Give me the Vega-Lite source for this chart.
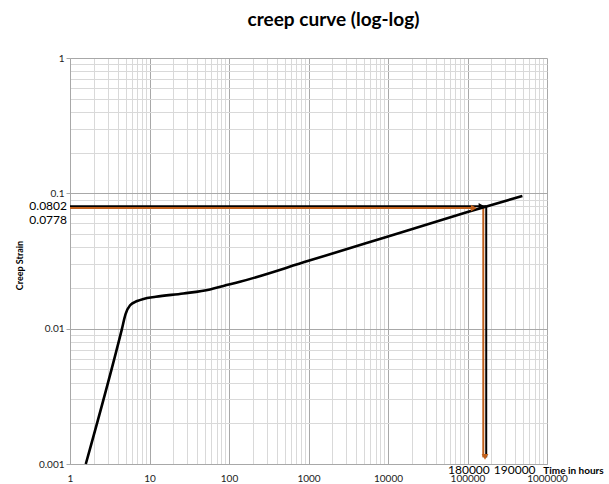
{
  "$schema": "https://vega.github.io/schema/vega-lite/v6.json",
  "width": 477,
  "height": 406,
  "autosize": "none",
  "padding": {"left": 70, "top": 58, "right": 62, "bottom": 20},
  "background": "white",
  "title": {"text": "creep curve (log-log)", "fontSize": 19, "font": "Lato", "fontWeight": "bold", "color": "#000000", "anchor": "middle", "frame": "group", "dx": 25, "offset": 23},
  "config": {"view": {"stroke": null}, "font": "Lato"},
  "datasets": {
    "curve": [
      {"x": 1.58, "y": 0.001},
      {"x": 4.47, "y": 0.0098},
      {"x": 5.0, "y": 0.0128},
      {"x": 5.7, "y": 0.0149},
      {"x": 7.0, "y": 0.0160},
      {"x": 8.4, "y": 0.0166},
      {"x": 12, "y": 0.0172},
      {"x": 26.6, "y": 0.0182},
      {"x": 57.7, "y": 0.0195},
      {"x": 85, "y": 0.0207},
      {"x": 137, "y": 0.0222},
      {"x": 1000, "y": 0.0317},
      {"x": 10000, "y": 0.0480},
      {"x": 100000, "y": 0.0727},
      {"x": 490000, "y": 0.0957}
    ],
    "guides": [
      {"series": "black", "part": "h", "o": 1, "x": 1, "y": 0.0802},
      {"series": "black", "part": "h", "o": 2, "x": 172000, "y": 0.0802},
      {"series": "orange", "part": "h", "o": 1, "x": 1, "y": 0.0778},
      {"series": "orange", "part": "h", "o": 2, "x": 125000, "y": 0.0778},
      {"series": "orange", "part": "v", "o": 1, "x": 158000, "y": 0.0778},
      {"series": "orange", "part": "v", "o": 2, "x": 158000, "y": 0.00112},
      {"series": "black", "part": "v", "o": 1, "x": 172000, "y": 0.0802},
      {"series": "black", "part": "v", "o": 2, "x": 172000, "y": 0.00112}
    ],
    "heads": [
      {"series": "black", "dir": "right", "x": 150000, "y": 0.0802},
      {"series": "orange", "dir": "right", "x": 120000, "y": 0.0778},
      {"series": "orange", "dir": "down", "x": 166000, "y": 0.00113}
    ],
    "ylabs": [
      {"t": "0.0802", "x": 1, "y": 0.0802}
    ],
    "ylabs2": [
      {"t": "0.0778", "x": 1, "y": 0.0778}
    ],
    "xlabsL": [
      {"t": "180000", "x": 180000, "y": 0.001}
    ],
    "xlabsR": [
      {"t": "190000", "x": 180000, "y": 0.001}
    ]
  },
  "layer": [
    {
      "data": {"name": "guides"},
      "mark": {"type": "line", "strokeWidth": 2, "clip": false},
      "encoding": {
        "x": {
          "field": "x", "type": "quantitative",
          "scale": {"type": "log", "domain": [1, 1000000], "nice": false},
          "axis": {
            "values": [1,2,3,4,5,6,7,8,9,10,20,30,40,50,60,70,80,90,100,200,300,400,500,600,700,800,900,1000,2000,3000,4000,5000,6000,7000,8000,9000,10000,20000,30000,40000,50000,60000,70000,80000,90000,100000,200000,300000,400000,500000,600000,700000,800000,900000,1000000],
            "labelExpr": "abs(log(datum.value)/LN10 - round(log(datum.value)/LN10)) < 0.000001 ? format(datum.value, 'd') : ''",
            "labelOverlap": false,
            "labelFlush": false,
            "labelFontSize": 10,
            "labelColor": "#222222",
            "labelFont": "Lato",
            "labelPadding": 9,
            "grid": true,
            "gridColor": {"condition": {"test": "abs(log(datum.value)/LN10 - round(log(datum.value)/LN10)) < 0.000001", "value": "#a8a8a8"}, "value": "#d9d9d9"},
            "gridWidth": 1,
            "ticks": false,
            "domain": true,
            "domainColor": "#a8a8a8",
            "title": "Time in hours",
            "titleFont": "Lato",
            "titleFontSize": 10,
            "titleFontWeight": "bold",
            "titleColor": "#000000",
            "titleX": 503,
            "titleY": 6,
            "titleAlign": "center",
            "titleBaseline": "middle"
          }
        },
        "y": {
          "field": "y", "type": "quantitative",
          "scale": {"type": "log", "domain": [0.001, 1], "nice": false},
          "axis": {
            "values": [0.001,0.002,0.003,0.004,0.005,0.006,0.007,0.008,0.009,0.01,0.02,0.03,0.04,0.05,0.06,0.07,0.08,0.09,0.1,0.2,0.3,0.4,0.5,0.6,0.7,0.8,0.9,1],
            "labelExpr": "abs(log(datum.value)/LN10 - round(log(datum.value)/LN10)) < 0.000001 ? format(datum.value, '~g') : ''",
            "labelOverlap": false,
            "labelFlush": false,
            "labelFontSize": 10,
            "labelColor": "#222222",
            "labelFont": "Lato",
            "labelPadding": 2,
            "grid": true,
            "gridColor": {"condition": {"test": "abs(log(datum.value)/LN10 - round(log(datum.value)/LN10)) < 0.000001", "value": "#a8a8a8"}, "value": "#d9d9d9"},
            "gridWidth": 1,
            "ticks": true,
            "tickSize": 4,
            "tickColor": "#a8a8a8",
            "tickOpacity": {"condition": {"test": "abs(log(datum.value)/LN10 - round(log(datum.value)/LN10)) < 0.000001", "value": 1}, "value": 0},
            "domain": true,
            "domainColor": "#a8a8a8",
            "title": "Creep Strain",
            "titleFont": "Lato",
            "titleFontSize": 9,
            "titleFontWeight": "bold",
            "titleColor": "#000000",
            "titleX": -51,
            "titleY": 207,
            "titleAlign": "center",
            "titleBaseline": "middle",
            "titleAngle": -90
          }
        },
        "color": {"field": "series", "type": "nominal", "scale": {"domain": ["black", "orange"], "range": ["#000000", "#c0601c"]}, "legend": null},
        "detail": {"field": "part"},
        "order": {"field": "o", "type": "quantitative"}
      }
    },
    {
      "data": {"name": "curve"},
      "mark": {"type": "line", "strokeWidth": 2.6, "color": "#000000", "interpolate": "monotone"},
      "encoding": {
        "x": {"field": "x", "type": "quantitative"},
        "y": {"field": "y", "type": "quantitative"}
      }
    },
    {
      "data": {"name": "heads"},
      "mark": {"type": "point", "filled": true, "size": 45, "opacity": 1},
      "encoding": {
        "x": {"field": "x", "type": "quantitative"},
        "y": {"field": "y", "type": "quantitative"},
        "shape": {"field": "dir", "type": "nominal", "scale": {"domain": ["right", "down"], "range": ["triangle-right", "triangle-down"]}, "legend": null},
        "color": {"field": "series", "type": "nominal", "legend": null}
      }
    },
    {
      "data": {"name": "ylabs"},
      "mark": {"type": "text", "align": "right", "baseline": "middle", "dx": -3, "fontSize": 12, "font": "Lato", "color": "#000000"},
      "encoding": {
        "x": {"field": "x", "type": "quantitative"},
        "y": {"field": "y", "type": "quantitative"},
        "text": {"field": "t"}
      }
    },
    {
      "data": {"name": "ylabs2"},
      "mark": {"type": "text", "align": "right", "baseline": "middle", "dx": -3, "dy": 12, "fontSize": 12, "font": "Lato", "color": "#000000"},
      "encoding": {
        "x": {"field": "x", "type": "quantitative"},
        "y": {"field": "y", "type": "quantitative"},
        "text": {"field": "t"}
      }
    },
    {
      "data": {"name": "xlabsL"},
      "mark": {"type": "text", "align": "right", "baseline": "middle", "dx": 2, "dy": 6, "fontSize": 12, "font": "Lato", "color": "#000000"},
      "encoding": {
        "x": {"field": "x", "type": "quantitative"},
        "y": {"field": "y", "type": "quantitative"},
        "text": {"field": "t"}
      }
    },
    {
      "data": {"name": "xlabsR"},
      "mark": {"type": "text", "align": "left", "baseline": "middle", "dx": 6, "dy": 6, "fontSize": 12, "font": "Lato", "color": "#000000"},
      "encoding": {
        "x": {"field": "x", "type": "quantitative"},
        "y": {"field": "y", "type": "quantitative"},
        "text": {"field": "t"}
      }
    }
  ]
}
